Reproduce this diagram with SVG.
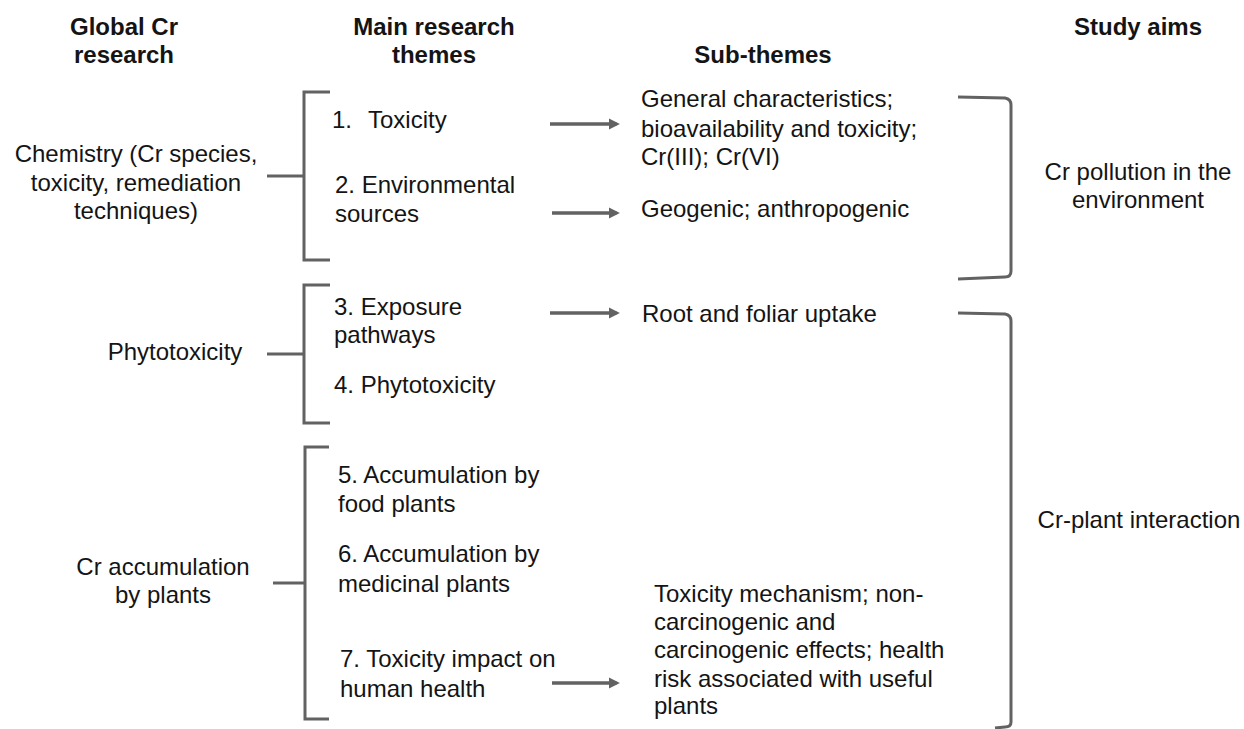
<svg xmlns="http://www.w3.org/2000/svg" width="1244" height="729" viewBox="0 0 1244 729">
<style>
text{font-family:"Liberation Sans",Arial,sans-serif;font-size:24px;fill:#141414}
.h{font-weight:bold}
.c{text-anchor:middle}
.ln{fill:none;stroke:#626262;stroke-width:3}
.ar{fill:none;stroke:#626262;stroke-width:3.5}
.br{fill:none;stroke:#626262;stroke-width:3}
</style>
<defs>
<marker id="ah" viewBox="0 0 10 10" refX="7" refY="5" markerWidth="3.2" markerHeight="3.2" orient="auto" markerUnits="strokeWidth">
<path d="M0,0 L10,5 L0,10 z" fill="#626262"/>
</marker>
</defs>
<rect width="1244" height="729" fill="#fff"/>
<g id="headers">
<text class="h c" x="124" y="35">Global Cr</text>
<text class="h c" x="124" y="63">research</text>
<text class="h c" x="434" y="35">Main research</text>
<text class="h c" x="434" y="63">themes</text>
<text class="h c" x="763" y="63">Sub-themes</text>
<text class="h c" x="1138" y="35">Study aims</text>
</g>
<g id="global-chemistry"><text class="c" x="136" y="162">Chemistry (Cr species,</text><text class="c" x="136" y="191">toxicity, remediation</text><text class="c" x="136" y="219">techniques)</text></g>
<g id="global-phyto"><text class="c" x="175" y="360">Phytotoxicity</text></g>
<g id="global-accum"><text class="c" x="163" y="575">Cr accumulation</text><text class="c" x="163" y="603">by plants</text></g>
<g id="theme-1"><text x="332" y="128">1.<tspan x="368">Toxicity</tspan></text></g>
<g id="theme-2"><text x="335" y="193">2. Environmental</text><text x="335" y="222">sources</text></g>
<g id="theme-3"><text x="334" y="315">3. Exposure</text><text x="334" y="343">pathways</text></g>
<g id="theme-4"><text x="334" y="393">4. Phytotoxicity</text></g>
<g id="theme-5"><text x="338" y="483">5. Accumulation by</text><text x="338" y="512">food plants</text></g>
<g id="theme-6"><text x="338" y="562">6. Accumulation by</text><text x="338" y="592">medicinal plants</text></g>
<g id="theme-7"><text x="340" y="667">7. Toxicity impact on</text><text x="340" y="697">human health</text></g>
<g id="sub-1"><text x="641" y="107">General characteristics;</text><text x="641" y="137">bioavailability and toxicity;</text><text x="641" y="165">Cr(III); Cr(VI)</text></g>
<g id="sub-2"><text x="641" y="217">Geogenic; anthropogenic</text></g>
<g id="sub-3"><text x="642" y="322">Root and foliar uptake</text></g>
<g id="sub-7"><text x="654" y="602">Toxicity mechanism; non-</text><text x="654" y="630">carcinogenic and</text><text x="654" y="658">carcinogenic effects; health</text><text x="654" y="687">risk associated with useful</text><text x="654" y="714">plants</text></g>
<g id="aim-1"><text class="c" x="1138" y="180">Cr pollution in the</text><text class="c" x="1138" y="208">environment</text></g>
<g id="aim-2"><text class="c" x="1139" y="528">Cr-plant interaction</text></g>
<g id="connectors">
<path class="ln" d="M267,176 H304 M330,92 H304 V260 H330"/>
<path class="ln" d="M267,354 H304 M330,285 H304 V423 H330"/>
<path class="ln" d="M273,583 H305 M329,447 H305 V719 H329"/>
<line class="ar" x1="550" y1="124" x2="616.5" y2="124" marker-end="url(#ah)"/>
<line class="ar" x1="552" y1="213" x2="616.5" y2="213" marker-end="url(#ah)"/>
<line class="ar" x1="550" y1="313" x2="616.5" y2="313" marker-end="url(#ah)"/>
<line class="ar" x1="552" y1="683" x2="616.5" y2="683" marker-end="url(#ah)"/>
<path class="br" d="M958,97 L1005,98 Q1011,99 1011,105 L1011,271 Q1011,277 1005,277 L958,279"/>
<path class="br" d="M958,313 L1005,314 Q1011,315 1011,321 L1011,722 Q1011,727 1005,727 L995,728"/>
</g>
</svg>
